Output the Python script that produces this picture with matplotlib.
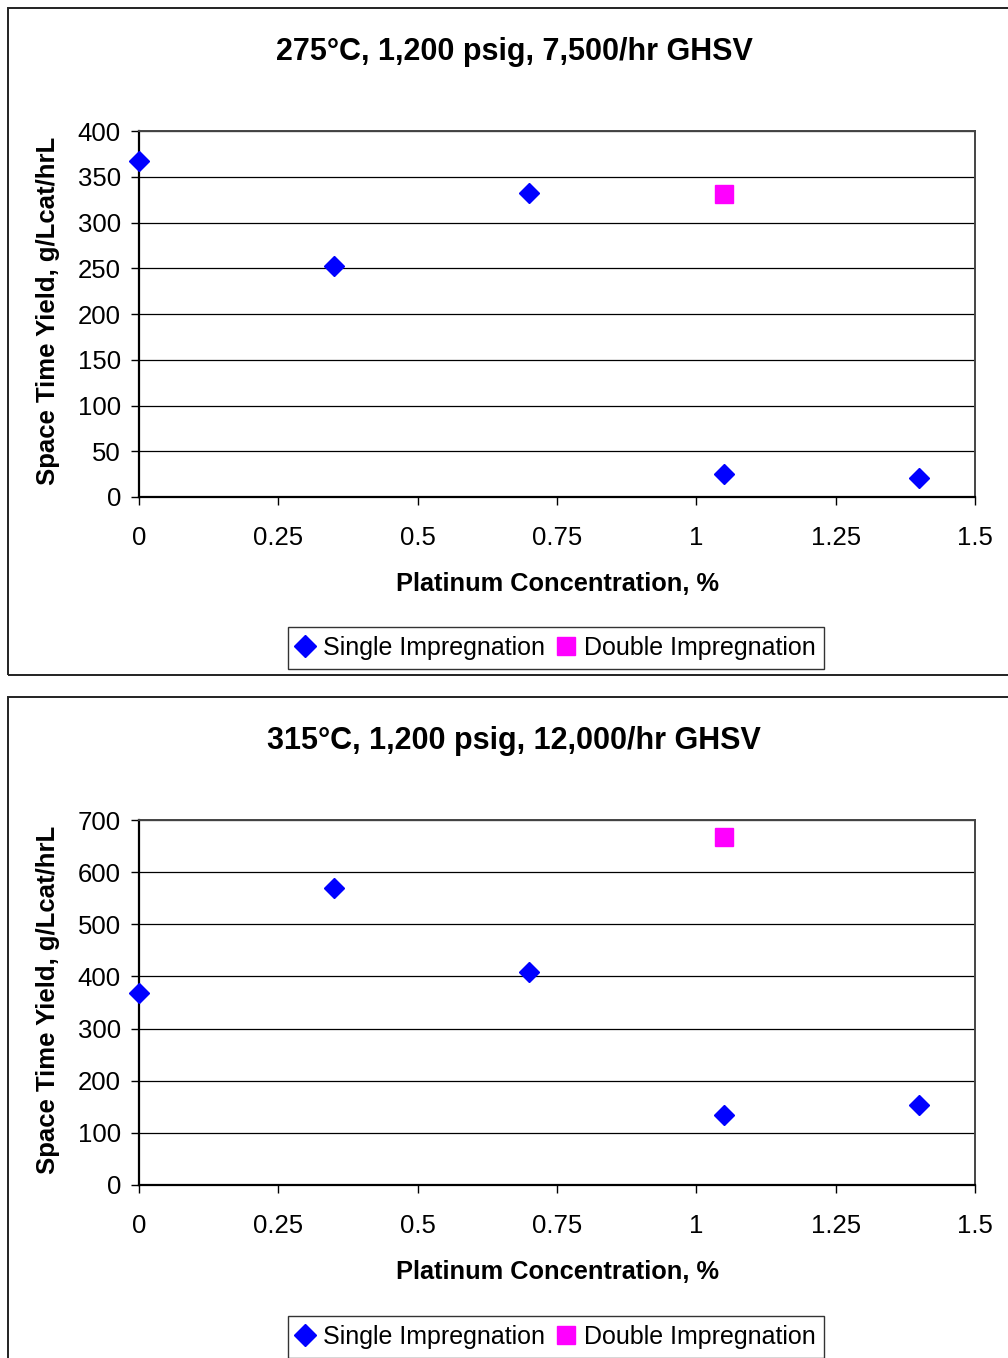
import matplotlib
matplotlib.use("Agg")
import matplotlib.pyplot as plt
from matplotlib.patches import Rectangle
from matplotlib.lines import Line2D

plt.rcParams['font.family'] = ['Liberation Sans', 'DejaVu Sans']

# ---- data ----
x_single = [0.0, 0.35, 0.70, 1.05, 1.40]
x_double = [1.05]
y1_single = [367, 253, 332, 25, 21]
y1_double = [331]
y2_single = [368, 570, 408, 134, 153]
y2_double = [667]
titles = ["275°C, 1,200 psig, 7,500/hr GHSV", "315°C, 1,200 psig, 12,000/hr GHSV"]
xticks = [0, 0.25, 0.5, 0.75, 1, 1.25, 1.5]
xticklabels = ["0", "0.25", "0.5", "0.75", "1", "1.25", "1.5"]
yticks1 = [0, 50, 100, 150, 200, 250, 300, 350, 400]
yticks2 = [0, 100, 200, 300, 400, 500, 600, 700]
xlabel = "Platinum Concentration, %"
ylabel = "Space Time Yield, g/Lcat/hrL"
legend_labels = ["Single Impregnation", "Double Impregnation"]

W, H = 1008, 1358
fig = plt.figure(figsize=(W / 100, H / 100), dpi=100)

def fx(px):
    return px / W

def fy(py):
    return 1 - py / H

# panel frames
for (top, bot) in [(8, 675), (697, 1370)]:
    fig.patches.append(Rectangle((fx(8), fy(bot)), fx(1010 - 8), (bot - top) / H,
                                 transform=fig.transFigure, fill=False,
                                 edgecolor='#222222', linewidth=1.4, zorder=0))

panels = [
    dict(top=131, bot=497, ys=y1_single, yd=y1_double, yt=yticks1, ymax=400,
         title=titles[0], title_y=52, xl_y=584, leg_y=648),
    dict(top=820, bot=1185, ys=y2_single, yd=y2_double, yt=yticks2, ymax=700,
         title=titles[1], title_y=741, xl_y=1272, leg_y=1337),
]

left, right = 139, 975
for p in panels:
    ax = fig.add_axes([fx(left), fy(p['bot']), fx(right - left), (p['bot'] - p['top']) / H])
    ax.set_xlim(0, 1.5)
    ax.set_ylim(0, p['ymax'])
    ax.set_xticks(xticks)
    ax.set_xticklabels(xticklabels)
    ax.set_yticks(p['yt'])
    ax.yaxis.grid(True, color='black', linewidth=0.9)
    ax.set_axisbelow(True)
    for s in ['left', 'bottom']:
        ax.spines[s].set_color('black')
        ax.spines[s].set_linewidth(1.6)
    for s in ['top', 'right']:
        ax.spines[s].set_color('#444444')
        ax.spines[s].set_linewidth(1.4)
    ax.tick_params(axis='both', direction='out', length=6, width=1.0,
                   labelsize=18.5, colors='black')
    ax.tick_params(axis='x', pad=15)
    ax.tick_params(axis='y', pad=7)
    ax.plot(x_single, p['ys'], linestyle='none', marker='D', markersize=10,
            color='#0000FF', markeredgecolor='#0000FF', clip_on=False, zorder=5)
    ax.plot(x_double, p['yd'], linestyle='none', marker='s', markersize=13,
            color='#FF00FF', markeredgecolor='#FF00FF', clip_on=False, zorder=5)
    fig.text(fx(514), fy(p['title_y']), p['title'], ha='center', va='center',
             fontsize=22, fontweight='bold')
    fig.text(fx(557), fy(p['xl_y']), xlabel, ha='center', va='center',
             fontsize=18.3, fontweight='bold')
    fig.text(fx(48), fy((p['top'] + p['bot']) / 2 - 3), ylabel, ha='center', va='center',
             rotation=90, fontsize=18.5, fontweight='bold')
    handles = [Line2D([], [], linestyle='none', marker='D', markersize=11, color='#0000FF'),
               Line2D([], [], linestyle='none', marker='s', markersize=13, color='#FF00FF')]
    leg = fig.legend(handles, legend_labels, loc='center',
                     bbox_to_anchor=(fx(556), fy(p['leg_y'])), ncol=2,
                     fontsize=18, frameon=True, fancybox=False, shadow=False,
                     handlelength=0.7, handletextpad=0.35, columnspacing=0.5,
                     borderpad=0.35, borderaxespad=0)
    leg.get_frame().set_edgecolor('black')
    leg.get_frame().set_linewidth(1.0)

fig.savefig("out.png", dpi=100, facecolor='white')
